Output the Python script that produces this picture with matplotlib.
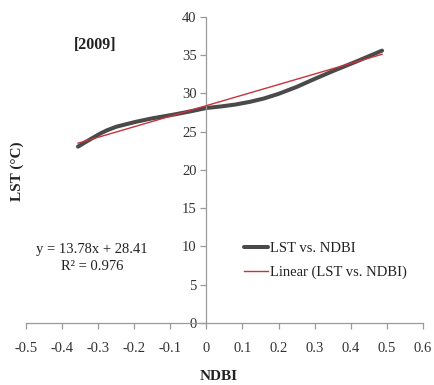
import matplotlib
matplotlib.use("Agg")
import matplotlib.pyplot as plt
import numpy as np

# LST vs. NDBI, 2009
ndbi = [-0.356, -0.335, -0.315, -0.295, -0.275, -0.25, -0.225, -0.195, -0.15,
        -0.095, -0.04, 0.0, 0.04, 0.08, 0.12, 0.16, 0.2, 0.25, 0.3, 0.352,
        0.417, 0.487]
lst = [23.05, 23.65, 24.2, 24.75, 25.2, 25.65, 25.95, 26.3, 26.75,
       27.2, 27.7, 28.1, 28.3, 28.55, 28.9, 29.35, 29.95, 30.85, 31.9, 32.95,
       34.2, 35.6]
slope = 13.78
intercept = 28.41
r2 = 0.976
x_ticks = [-0.5, -0.4, -0.3, -0.2, -0.1, 0, 0.1, 0.2, 0.3, 0.4, 0.5, 0.6]
y_ticks = [0, 5, 10, 15, 20, 25, 30, 35, 40]

plt.rcParams['font.family'] = ['Liberation Serif', 'DejaVu Serif']

fig = plt.figure(figsize=(4.35, 3.85), dpi=100)
ax = fig.add_axes([0.06, 0.161, 0.912, 0.795])

fit_x = np.array([ndbi[0], ndbi[-1]])
ax.plot(ndbi, lst, color='#4a4a4a', lw=2.9, solid_capstyle='round',
        solid_joinstyle='round', label='LST vs. NDBI', zorder=2)
ax.plot(fit_x, slope * fit_x + intercept, color='#c8323a', lw=1.0,
        label='Linear (LST vs. NDBI)', zorder=3)

ax.set_xlim(-0.5, 0.6)
ax.set_ylim(0, 40)
ax.set_xticks(x_ticks)
ax.set_xticklabels(['0' if t == 0 else f'{t:g}' for t in x_ticks])
ax.set_yticks(y_ticks)

# Excel-style axes crossing at zero
ax.spines['left'].set_position(('data', 0))
ax.spines['right'].set_visible(False)
ax.spines['top'].set_visible(False)
for s in ('left', 'bottom'):
    ax.spines[s].set_color('#9a9a9a')
    ax.spines[s].set_linewidth(0.9)
ax.tick_params(axis='both', colors='#9a9a9a', labelcolor='#333333',
               labelsize=10.5, length=4, width=0.9, direction='out')
ax.tick_params(axis='x', pad=10)
ax.tick_params(axis='y', pad=3)

fig.text(0.218, 0.883, '[2009]', fontsize=11.5, fontweight='bold',
         ha='center', va='center', color='#222222')
fig.text(0.04, 0.555, 'LST (°C)', rotation=90, fontsize=11, fontweight='bold',
         ha='center', va='center', color='#222222')
fig.text(0.502, 0.022, 'NDBI', fontsize=11, fontweight='bold',
         ha='center', va='center', color='#222222')
fig.text(0.212, 0.33, f'y = {slope}x + {intercept}\nR² = {r2}', fontsize=10.5,
         ha='center', va='center', color='#222222', linespacing=1.35)

leg = ax.legend(loc='center left', bbox_to_anchor=(0.515, 0.205), frameon=False,
                fontsize=10.5, handlelength=1.7, handletextpad=0.1,
                labelspacing=0.75)
for t in leg.get_texts():
    t.set_color('#222222')

fig.savefig('out.png', dpi=100)
